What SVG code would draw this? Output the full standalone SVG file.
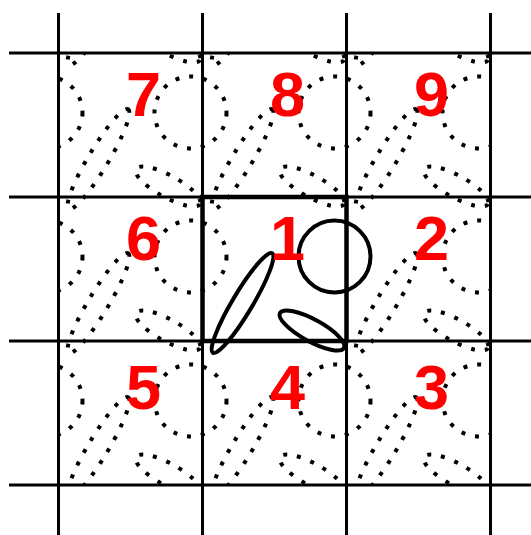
<svg xmlns="http://www.w3.org/2000/svg" xmlns:xlink="http://www.w3.org/1999/xlink" width="531" height="535" viewBox="0 0 531 535">
<style>
.grid{stroke:#000;stroke-width:3;fill:none}
.dot{stroke:#000;stroke-width:4;fill:none;stroke-dasharray:4 10}
.bold{stroke:#000;stroke-width:4;fill:none}
.sq{stroke:#000;stroke-width:4.5;fill:none}
.num{fill:#ff0000;font-family:"Liberation Sans",Arial,sans-serif;font-weight:bold;font-size:63px;text-anchor:middle}
</style>
<defs>
<g id="tile">
<circle cx="334.5" cy="256.5" r="36"/>
<ellipse cx="242.5" cy="303" rx="58" ry="10" transform="rotate(-59.2 242.5 303)"/>
<ellipse cx="312" cy="330.5" rx="36.5" ry="11" transform="rotate(28.7 312 330.5)"/>
</g>
<clipPath id="area"><rect x="58.5" y="53" width="432" height="432"/></clipPath>
</defs>
<rect width="531" height="535" fill="#fff"/>
<g id="dotted-tiling" class="dot" clip-path="url(#area)">
<use xlink:href="#tile" transform="translate(-288,-288)"/>
<use xlink:href="#tile" transform="translate(-144,-288)"/>
<use xlink:href="#tile" transform="translate(0,-288)"/>
<use xlink:href="#tile" transform="translate(144,-288)"/>
<use xlink:href="#tile" transform="translate(-288,-144)"/>
<use xlink:href="#tile" transform="translate(-144,-144)"/>
<use xlink:href="#tile" transform="translate(0,-144)"/>
<use xlink:href="#tile" transform="translate(144,-144)"/>
<use xlink:href="#tile" transform="translate(-288,0)"/>
<use xlink:href="#tile" transform="translate(-144,0)"/>
<use xlink:href="#tile" transform="translate(144,0)"/>
<use xlink:href="#tile" transform="translate(-288,144)"/>
<use xlink:href="#tile" transform="translate(-144,144)"/>
<use xlink:href="#tile" transform="translate(0,144)"/>
<use xlink:href="#tile" transform="translate(144,144)"/>
</g>
<g id="grid" class="grid">
<line x1="9" y1="53" x2="531" y2="53"/>
<line x1="9" y1="197" x2="531" y2="197"/>
<line x1="9" y1="341" x2="531" y2="341"/>
<line x1="9" y1="485" x2="531" y2="485"/>
<line x1="58.5" y1="13" x2="58.5" y2="535"/>
<line x1="202.5" y1="13" x2="202.5" y2="535"/>
<line x1="346.5" y1="13" x2="346.5" y2="535"/>
<line x1="490.5" y1="13" x2="490.5" y2="535"/>
</g>
<g id="cell-1">
<rect class="sq" x="202.5" y="197" width="144" height="144"/>
<use class="bold" xlink:href="#tile"/>
<text class="num" x="287.5" y="259.5">1</text>
</g>
<g id="cell-2"><text class="num" x="431.5" y="259.5">2</text></g>
<g id="cell-3"><text class="num" x="431.5" y="409">3</text></g>
<g id="cell-4"><text class="num" x="287.5" y="409">4</text></g>
<g id="cell-5"><text class="num" x="143.5" y="409">5</text></g>
<g id="cell-6"><text class="num" x="143.5" y="259.5">6</text></g>
<g id="cell-7"><text class="num" x="143.5" y="116">7</text></g>
<g id="cell-8"><text class="num" x="287.5" y="116">8</text></g>
<g id="cell-9"><text class="num" x="431.5" y="116">9</text></g>
</svg>
